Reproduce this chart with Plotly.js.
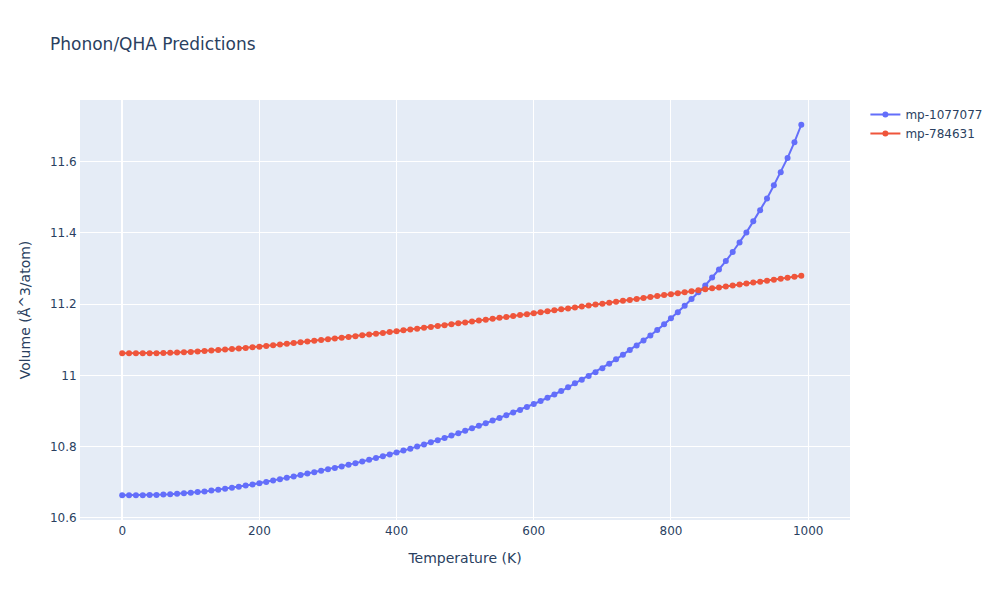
<!DOCTYPE html>
<html>
<head>
<meta charset="utf-8">
<script src="https://cdn.plot.ly/plotly-3.0.1.min.js"></script>
<style>html,body{margin:0;padding:0;background:#fff;}#chart{width:1000px;height:600px;}</style>
</head>
<body>
<div id="chart"></div>
<script>
const temperatures = [0,10,20,30,40,50,60,70,80,90,100,110,120,130,140,150,160,170,180,190,200,210,220,230,240,250,260,270,280,290,300,310,320,330,340,350,360,370,380,390,400,410,420,430,440,450,460,470,480,490,500,510,520,530,540,550,560,570,580,590,600,610,620,630,640,650,660,670,680,690,700,710,720,730,740,750,760,770,780,790,800,810,820,830,840,850,860,870,880,890,900,910,920,930,940,950,960,970,980,990];

const seriesNames = ["mp-1077077", "mp-784631"];

const volumeA = [10.6636,10.6636,10.6636,10.6637,10.6641,10.6646,10.6654,10.6664,10.6676,10.6690,
10.6706,10.6724,10.6744,10.6766,10.6791,10.6818,10.6846,10.6876,10.6907,10.6940,
10.6974,10.7011,10.7049,10.7087,10.7126,10.7165,10.7204,10.7243,10.7283,10.7322,
10.7362,10.7401,10.7446,10.7492,10.7537,10.7582,10.7630,10.7678,10.7728,10.7780,
10.7833,10.7888,10.7944,10.8001,10.8060,10.8120,10.8182,10.8245,10.8310,10.8376,
10.8444,10.8513,10.8584,10.8656,10.8730,10.8805,10.8881,10.8955,10.9030,10.9110,
10.9195,10.9280,10.9368,10.9460,10.9560,10.9665,10.9775,10.9878,10.9980,11.0090,
11.0200,11.0328,11.0450,11.0578,11.0710,11.0840,11.0980,11.1120,11.1270,11.1430,
11.1600,11.1770,11.1950,11.2140,11.2330,11.2520,11.2745,11.2970,11.3205,11.3460,
11.3730,11.4010,11.4320,11.4630,11.4960,11.5330,11.5700,11.6100,11.6540,11.7030];

const volumeB = [11.0617,11.0617,11.0617,11.0618,11.0619,11.0622,11.0626,11.0632,11.0639,11.0648,
11.0658,11.0669,11.0681,11.0694,11.0708,11.0722,11.0737,11.0752,11.0768,11.0785,
11.0803,11.0822,11.0842,11.0862,11.0883,11.0904,11.0925,11.0946,11.0968,11.0990,
11.1012,11.1034,11.1056,11.1078,11.1100,11.1122,11.1145,11.1168,11.1191,11.1214,
11.1238,11.1262,11.1286,11.1310,11.1334,11.1358,11.1383,11.1408,11.1433,11.1458,
11.1483,11.1509,11.1535,11.1561,11.1587,11.1613,11.1639,11.1665,11.1691,11.1717,
11.1745,11.1772,11.1798,11.1825,11.1851,11.1878,11.1904,11.1931,11.1957,11.1984,
11.2010,11.2037,11.2063,11.2090,11.2116,11.2143,11.2170,11.2197,11.2224,11.2251,
11.2278,11.2305,11.2332,11.2359,11.2386,11.2413,11.2440,11.2467,11.2494,11.2521,
11.2548,11.2575,11.2602,11.2629,11.2656,11.2683,11.2710,11.2737,11.2764,11.2791];

const colors = ["#636efa", "#EF553B"];

const traces = [volumeA, volumeB].map((ys, i) => ({
  x: temperatures,
  y: ys,
  name: seriesNames[i],
  type: "scatter",
  mode: "lines+markers",
  line: {color: colors[i], width: 2},
  marker: {color: colors[i], size: 6}
}));

const axisCommon = {
  gridcolor: "white",
  linecolor: "white",
  zerolinecolor: "white",
  zerolinewidth: 2,
  ticks: "",
  automargin: true
};

const layout = {
  width: 1000,
  height: 600,
  font: {family: '"DejaVu Sans", verdana, sans-serif', size: 12, color: "#2a3f5f"},
  paper_bgcolor: "white",
  plot_bgcolor: "#E5ECF6",
  title: {text: "Phonon/QHA Predictions", x: 0.05, font: {size: 17, color: "#2a3f5f"}},
  margin: {l: 80, r: 80, t: 100, b: 80},
  xaxis: Object.assign({}, axisCommon, {range: [-61.5, 1061], title: {text: "Temperature (K)", standoff: 15}}),
  yaxis: Object.assign({}, axisCommon, {title: {text: "Volume (Å^3/atom)", standoff: 15}}),
  legend: {font: {color: "#2a3f5f"}},
  showlegend: true
};

Plotly.newPlot("chart", traces, layout, {displayModeBar: false});
</script>
</body>
</html>
